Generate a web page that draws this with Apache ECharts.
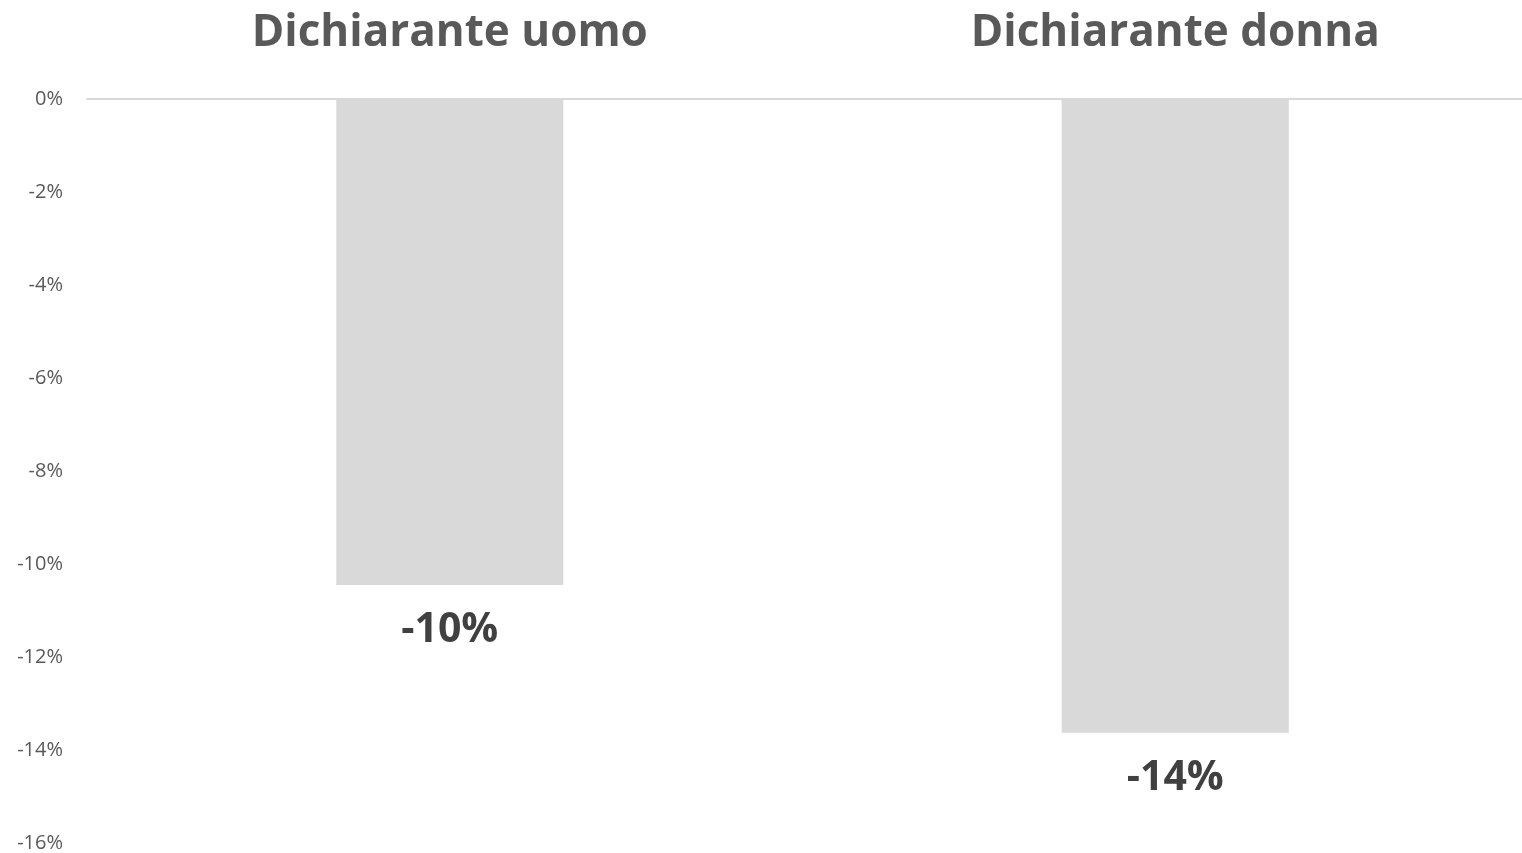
<!DOCTYPE html>
<html>
<head>
<meta charset="utf-8">
<script src="https://cdn.jsdelivr.net/npm/echarts@6/dist/echarts.min.js"></script>
<style>
html,body{margin:0;padding:0;background:#fff;}
#c{width:1522px;height:853px;}
</style>
</head>
<body>
<div id="c"></div>
<script>
const categories = ['Dichiarante uomo', 'Dichiarante donna'];
const values = [-10.45, -13.63];
const yTicks = { min: -16, max: 0, interval: 2 };

const chart = echarts.init(document.getElementById('c'), null, {renderer: 'canvas'});
chart.setOption({
  animation: false,
  backgroundColor: '#ffffff',
  grid: { left: 87, top: 99, width: 1451, height: 744, containLabel: false, outerBoundsMode: 'none' },
  xAxis: {
    type: 'category',
    position: 'top',
    data: categories,
    axisLine: { show: true, lineStyle: { color: '#d9d9d9', width: 2 } },
    axisTick: { show: false },
    axisLabel: {
      margin: 44,
      color: '#595959',
      fontFamily: 'Open Sans',
      fontWeight: 'bold',
      fontSize: 44
    }
  },
  yAxis: {
    type: 'value',
    min: yTicks.min,
    max: yTicks.max,
    interval: yTicks.interval,
    axisLine: { show: false },
    axisTick: { show: false },
    splitLine: { show: false },
    axisLabel: {
      margin: 24,
      color: '#595959',
      fontFamily: 'Open Sans',
      fontSize: 20,
      formatter: v => v + '%'
    }
  },
  series: [{
    type: 'bar',
    data: values,
    barWidth: '31.3%',
    itemStyle: { color: '#d9d9d9' },
    label: {
      show: true,
      position: 'bottom',
      distance: 25,
      color: '#404040',
      fontFamily: 'Open Sans',
      fontWeight: 'bold',
      fontSize: 41,
      formatter: p => Math.round(p.value) + '%'
    }
  }]
});
</script>
</body>
</html>
